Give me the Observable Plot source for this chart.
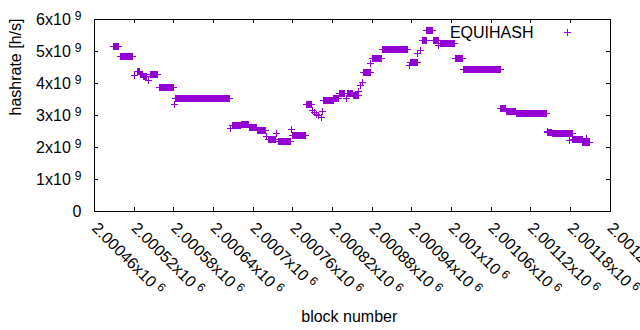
<!DOCTYPE html>
<html><head><meta charset="utf-8">
<script src="https://cdn.jsdelivr.net/npm/d3@7"></script>
<script src="https://cdn.jsdelivr.net/npm/@observablehq/plot@0.6"></script>
<style>body{margin:0;background:#fff} svg{display:block}</style>
</head><body><div id="chart"></div>
<script>
// runs of blocks with constant estimated hashrate (single points have start == end)
const blockStart = [2000489,2000500,2000521,2000525,2000530,2000534,2000542,2000545,2000558,2000581,2000583,2000666,2000669,2000682,2000694,2000706,2000721,2000723,2000736,2000738,2000758,2000760,2000781,2000790,2000793,2000796,2000799,2000803,2000805,2000807,2000822,2000830,2000841,2000843,2000852,2000860,2000863,2000866,2000867,2000878,2000881,2000896,2000936,2000938,2000949,2000953,2000956,2000963,2000973,2000981,2000983,2001006,2001019,2001075,2001083,2001098,2001145,2001146,2001153,2001179,2001184,2001199,2001205];
const blockEnd   = [2000496,2000518,2000521,2000528,2000533,2000539,2000542,2000555,2000579,2000581,2000664,2000666,2000681,2000693,2000705,2000719,2000721,2000734,2000736,2000756,2000758,2000779,2000788,2000790,2000793,2000796,2000799,2000803,2000805,2000821,2000829,2000839,2000841,2000851,2000859,2000860,2000863,2000866,2000877,2000878,2000895,2000934,2000936,2000948,2000949,2000953,2000962,2000972,2000980,2000981,2001004,2001017,2001074,2001082,2001097,2001144,2001145,2001152,2001183,2001179,2001198,2001209,2001205];
const hashrate   = [5.17e9,4.83e9,4.26e9,4.38e9,4.29e9,4.22e9,4.10e9,4.28e9,3.89e9,3.33e9,3.52e9,2.58e9,2.68e9,2.71e9,2.61e9,2.52e9,2.34e9,2.25e9,2.43e9,2.20e9,2.56e9,2.37e9,3.34e9,3.17e9,3.09e9,3.04e9,2.99e9,2.93e9,3.13e9,3.47e9,3.52e9,3.70e9,3.52e9,3.68e9,3.61e9,3.76e9,3.94e9,4.04e9,4.35e9,4.62e9,4.77e9,5.05e9,4.56e9,4.67e9,4.93e9,5.03e9,5.35e9,5.67e9,5.35e9,5.19e9,5.24e9,4.77e9,4.43e9,3.23e9,3.14e9,3.05e9,2.50e9,2.48e9,2.43e9,2.22e9,2.24e9,2.17e9,2.27e9];

const xTicks = [2000460,2000520,2000580,2000640,2000700,2000760,2000820,2000880,2000940,2001000,2001060,2001120,2001180,2001240];
const xTickLabels = ["2.00046x10","2.00052x10","2.00058x10","2.00064x10","2.0007x10","2.00076x10","2.00082x10","2.00088x10","2.00094x10","2.001x10","2.00106x10","2.00112x10","2.00118x10","2.00124x10"];
const xTickExp = "6";
const yTicks = [0,1e9,2e9,3e9,4e9,5e9,6e9];
const yTickLabels = ["0","1x10","2x10","3x10","4x10","5x10","6x10"];
const yTickExp = "9";
const seriesName = "EQUIHASH";
const xTitle = "block number";
const yTitle = "hashrate [h/s]";

const color = "#9400d3";
const segs = blockStart.map((s, i) => ({s, e: blockEnd[i], v: hashrate[i]}));
const runs = segs.filter(d => d.e > d.s);
const ends = segs.flatMap(d => d.e > d.s ? [{x: d.s, v: d.v}, {x: d.e, v: d.v}] : [{x: d.s, v: d.v}]);

const plus = {draw(ctx, size) {
  const r = Math.sqrt(size / Math.PI);
  ctx.moveTo(-r, 0); ctx.lineTo(r, 0);
  ctx.moveTo(0, -r); ctx.lineTo(0, r);
}};

const W = 640, H = 330, mL = 94, mR = 30.5, mT = 19, mB = 119;
const fw = W - mL - mR, fh = H - mT - mB;
const FONT = "'Liberation Sans', Arial, sans-serif";
const FS = 16;
const crisp = {shapeRendering: "crispEdges"};

const chart = Plot.plot({
  width: W, height: H,
  marginLeft: mL, marginRight: mR, marginTop: mT, marginBottom: mB,
  style: {fontFamily: FONT, fontSize: FS + "px", background: "white", color: "black"},
  x: {domain: [2000460, 2001240], axis: null},
  y: {domain: [0, 6e9], axis: null},
  marks: [
    Plot.link(runs, {x1: "s", x2: "e", y1: "v", y2: "v", stroke: color, strokeWidth: 7, ...crisp}),
    Plot.dot(ends, {x: "x", y: "v", symbol: plus, r: 3.5, stroke: color, fill: "none", strokeWidth: 1, ...crisp}),
    Plot.frame({stroke: "black", ...crisp}),
    Plot.tickX(xTicks, {x: d => d, insetTop: fh - 4, stroke: "black", ...crisp}),
    Plot.tickX(xTicks, {x: d => d, insetBottom: fh - 4, stroke: "black", ...crisp}),
    Plot.tickY(yTicks, {y: d => d, insetRight: fw - 4, stroke: "black", ...crisp}),
    Plot.tickY(yTicks, {y: d => d, insetLeft: fw - 4, stroke: "black", ...crisp}),
    Plot.text(yTicks, {y: d => d, text: (d, i) => yTickLabels[i], frameAnchor: "left", textAnchor: "end", lineAnchor: "middle", dx: -13, fontSize: FS, fill: "black"}),
    Plot.text(xTicks, {x: d => d, text: (d, i) => xTickLabels[i], frameAnchor: "bottom", rotate: 45, textAnchor: "start", lineAnchor: "middle", dy: 14, fontSize: FS, fill: "black"}),
    Plot.text([yTitle], {text: d => d, frameAnchor: "left", rotate: -90, lineAnchor: "middle", dx: -79, fontSize: FS, fill: "black"}),
    Plot.text([xTitle], {text: d => d, frameAnchor: "bottom", lineAnchor: "middle", dx: -3, dy: 105, fontSize: FS, fill: "black"}),
    Plot.text([seriesName], {text: d => d, frameAnchor: "top-right", textAnchor: "end", lineAnchor: "middle", dx: -76.5, dy: 13, fontSize: FS, fill: "black"}),
    Plot.dot([seriesName], {frameAnchor: "top-right", dx: -42.5, dy: 13, symbol: plus, r: 3.5, stroke: color, fill: "none", ...crisp})
  ]
});

// superscript exponents on tick labels
chart.querySelectorAll("text").forEach(t => {
  const s = t.textContent;
  let exp = null;
  if (xTickLabels.includes(s)) exp = xTickExp;
  else if (yTickLabels.includes(s) && s !== "0") exp = yTickExp;
  if (exp) {
    const ts = document.createElementNS("http://www.w3.org/2000/svg", "tspan");
    ts.setAttribute("dx", "4");
    ts.setAttribute("dy", "-0.4em");
    ts.setAttribute("font-size", "12px");
    ts.textContent = exp;
    t.appendChild(ts);
  }
});
document.getElementById("chart").appendChild(chart);
</script>
</body></html>
